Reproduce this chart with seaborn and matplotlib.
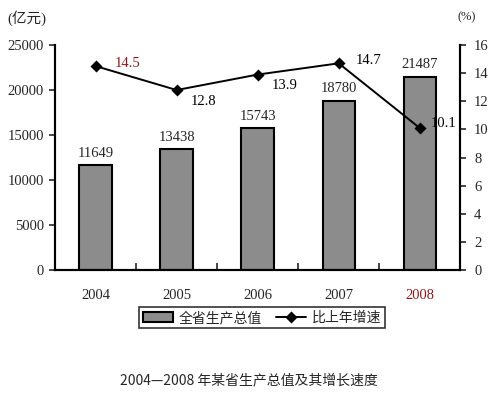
import numpy as np
import pandas as pd
import seaborn as sns
import matplotlib.pyplot as plt
from matplotlib.ticker import FixedLocator

years = ["2004", "2005", "2006", "2007", "2008"]
gdp = [11649, 13438, 15743, 18780, 21487]
growth = [14.5, 12.8, 13.9, 14.7, 10.1]

sns.set_style("white")
plt.rcParams["font.family"] = ["Liberation Serif", "Noto Sans CJK SC", "DejaVu Sans"]

df = pd.DataFrame({"year": years, "gdp": gdp, "growth": growth})

fig = plt.figure(figsize=(4.97, 3.94), dpi=100)
ax = fig.add_axes([0.111, 0.3147, 0.815, 0.571])

sns.barplot(data=df, x="year", y="gdp", color="#8c8c8c", edgecolor="black",
            linewidth=1.5, width=0.4, saturation=1, ax=ax, label="全省生产总值")
ax.set_ylim(0, 25000)
ax.set_yticks(range(0, 25001, 5000))
ax.set_xlim(-0.5, 4.5)
ax.set_xlabel("")
ax.set_ylabel("")

ax2 = ax.twinx()
sns.pointplot(data=df, x="year", y="growth", color="black", markers="D",
              linestyles="-", ax=ax2, label="比上年增速",
              markersize=5, linewidth=1.4)
ax2.set_ylim(0, 16)
ax2.set_yticks(range(0, 17, 2))
ax2.set_xlim(-0.5, 4.5)
ax2.set_ylabel("")
ax2.set_xlabel("")

for a in (ax, ax2):
    a.spines["top"].set_visible(False)
    for s in ["left", "right", "bottom"]:
        a.spines[s].set_color("black")
        a.spines[s].set_linewidth(1.5)

ax.tick_params(axis="y", direction="out", length=4, width=1.2, left=True,
               labelsize=10.5, pad=4)
ax2.tick_params(axis="y", direction="out", length=4, width=1.2, right=True,
                labelsize=10.5, pad=6)
ax.tick_params(axis="x", length=0, labelsize=10.5, pad=14)
ax.xaxis.set_minor_locator(FixedLocator([0.5, 1.5, 2.5, 3.5]))
ax.tick_params(axis="x", which="minor", direction="in", length=5, width=1.2,
               bottom=True)
ax2.tick_params(axis="x", length=0)
ax.get_xticklabels()[4].set_color("#8b1a1a")

# bar value labels
for i, v in enumerate(gdp):
    ax.annotate(str(v), (i, v), xytext=(0, 4), textcoords="offset points",
                ha="center", va="bottom", fontsize=10.5)

# growth labels
offsets = [(14, 2), (10, -8), (10, -8), (12, 2), (8, 3)]
colors = ["#8b1a1a", "black", "black", "black", "black"]
for i, (v, off, c) in enumerate(zip(growth, offsets, colors)):
    ax2.annotate(f"{v}", (i, v), xytext=off, textcoords="offset points",
                 ha="left", va="center", fontsize=10.5, color=c)

fig.text(0.015, 0.955, "(亿元)", fontsize=10.5, ha="left", va="center")
fig.text(0.94, 0.955, "(%)", fontsize=9, ha="center", va="center")

h1, l1 = ax.get_legend_handles_labels()
h2, l2 = ax2.get_legend_handles_labels()
if ax.get_legend():
    ax.get_legend().remove()
if ax2.get_legend():
    ax2.get_legend().remove()
leg = fig.legend(h1 + h2, l1 + l2, loc="center",
                 bbox_to_anchor=(0.527, 0.193), ncol=2, frameon=True,
                 fancybox=False, edgecolor="black", handlelength=2.2,
                 columnspacing=1.0, borderpad=0.25, handletextpad=0.4,
                 prop={"family": ["Noto Sans CJK SC"], "size": 10})
leg.get_frame().set_linewidth(1.2)

fig.text(0.5, 0.035, "2004—2008 年某省生产总值及其增长速度", ha="center",
         va="center", fontsize=10, family=["Noto Sans CJK SC", "DejaVu Sans"])

fig.savefig("out.png", dpi=100, facecolor="white")
